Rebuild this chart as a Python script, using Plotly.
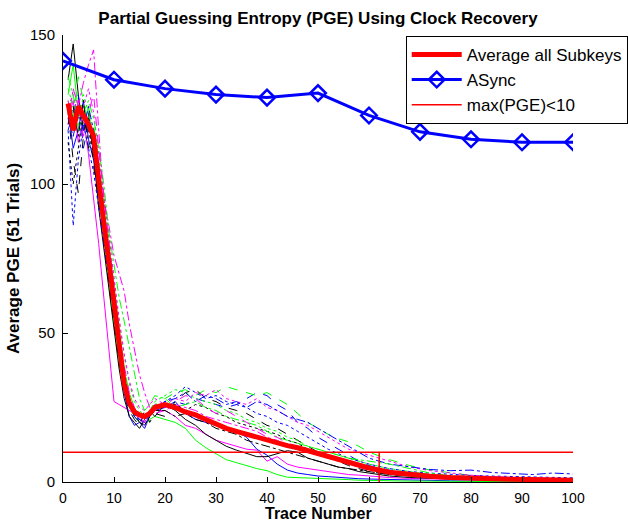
import plotly.graph_objects as go

# ---------------- data ----------------
trace_x = [1, 2, 3, 4, 5, 6, 7, 8, 9, 10, 11, 12, 13, 14, 15, 16, 17, 18,
           20, 22, 24, 26, 28, 30, 32, 34, 36, 38, 40, 42, 44, 46, 48, 50, 52, 54, 56, 58, 60,
           64, 68, 72, 76, 80, 84, 88, 92, 96, 100]

avg_all = [127, 118, 126, 123, 120, 116, 100, 87, 74, 60, 44, 33, 26.5, 23.5, 22.5, 22, 23, 25,
           26, 25, 23.5, 22.5, 21, 19.5, 18, 17, 16, 15, 14, 13, 12.2, 11.5, 10.5, 9.5, 8.5, 7.5, 6.5, 5.5, 4.7,
           3.3, 2.5, 1.9, 1.5, 1.2, 1.0, 0.9, 0.8, 0.7, 0.6]

async_x = [0, 10, 20, 30, 40, 50, 60, 70, 80, 90, 100]
async_y = [141.3, 135, 132, 130, 129, 130.5, 123, 117.5, 115, 114, 114]

limit_x = [0, 100, None, 62, 62]
limit_y = [10, 10, None, 0, 10]

sk_blue_solid = [125, 112, 118, 128, 115, 108, 96, 84, 70, 55, 42, 30, 22, 19, 20, 18, 22, 24,
                 25, 27, 23, 21, 20, 19, 18, 17, 15, 11, 9, 6, 4, 3, 2.5, 2, 1.8, 1.5, 1.3, 1.1, 1.0,
                 0.8, 0.6, 0.5, 0.4, 0.3, 0.3, 0.2, 0.2, 0.2, 0.2]
sk_green_solid = [130, 140, 124, 120, 126, 112, 98, 82, 66, 52, 40, 31, 25, 22, 20, 19, 21, 22,
                  21, 20, 18, 14, 11.5, 9.5, 7.5, 6.5, 5.5, 4.5, 3.8, 2.5, 1.6, 1.5, 1.4, 1.3, 1.2, 1, 0.8, 0.6, 0.5,
                  0.4, 0.3, 0.3, 0.2, 0.2, 0.2, 0.1, 0.1, 0.1, 0.1]
sk_magenta_solid = [122, 128, 114, 122, 110, 96, 80, 62, 44, 27, 26, 25, 24, 23, 21, 19, 22, 24,
                    24, 22, 19, 18, 16, 14, 13, 12, 11, 10.7, 7, 8.5, 6, 5, 4.5, 4, 3.5, 3, 2.5, 2.3, 2,
                    1.5, 1.2, 1, 0.8, 0.7, 0.6, 0.5, 0.5, 0.4, 0.4]
sk_black_solid = [135, 147, 130, 118, 122, 110, 92, 78, 64, 50, 38, 28, 22, 20, 18, 21, 24, 22,
                  26, 24, 21, 19, 16, 14, 12, 10.7, 9.5, 8.5, 8.5, 9.5, 10.5, 10, 8, 7, 6, 5, 4.5, 3.5, 3,
                  2, 1.5, 1.2, 1, 0.8, 0.7, 0.6, 0.5, 0.5, 0.4]
sk_blue_dash = [118, 124, 130, 112, 120, 114, 100, 86, 72, 58, 45, 34, 27, 23, 21, 20, 23, 25,
                25, 27, 26, 28, 27, 26, 25, 26, 28, 30, 29, 26, 24, 20, 18, 15, 13, 11, 9, 7, 5.5,
                4, 3, 2.5, 2, 1.8, 1.6, 1.5, 1.4, 1.2, 1]
sk_green_dash = [128, 122, 136, 128, 118, 120, 108, 92, 78, 64, 50, 38, 30, 25, 23, 22, 24, 26,
                 28, 30, 31, 29, 31, 30, 32, 31, 30, 29, 30, 28, 26, 23, 20, 18, 16, 14.5, 13.5, 12, 10,
                 7.5, 5.5, 4, 3, 2.2, 1.6, 1.2, 1, 0.8, 0.7]
sk_magenta_dashdot = [120, 132, 126, 134, 140, 145, 118, 95, 86, 76, 70, 64, 53, 44, 36, 30, 25, 23,
                      24, 26, 25, 24, 22, 21, 20, 19, 18, 17, 15, 14, 12, 11, 10, 9, 8, 7, 6, 5, 4,
                      3, 2.5, 2, 1.5, 1.2, 1, 0.9, 0.8, 0.7, 0.6]
sk_black_dash = [124, 108, 97, 116, 124, 106, 94, 80, 66, 52, 40, 30, 24, 21, 19, 24, 20, 23,
                 22, 27, 30, 31, 28, 27, 25, 24, 23, 21, 19, 18, 16, 14, 12, 10, 8.5, 7, 5.5, 4.5, 3.5,
                 2.5, 2, 1.6, 1.3, 1.1, 1, 0.9, 0.8, 0.7, 0.6]
sk_blue_dot = [118, 86, 108, 120, 112, 104, 92, 80, 68, 56, 44, 33, 26, 22, 21, 20, 23, 25,
               27, 29, 32, 30, 28, 29, 27, 26, 25, 23, 22, 20, 19, 17, 15, 13, 11, 9.5, 8, 7, 6,
               4.5, 3.5, 3, 2.5, 2.2, 2, 1.8, 1.6, 1.5, 1.4]
sk_green_dot = [132, 126, 120, 130, 124, 116, 106, 94, 80, 66, 54, 42, 33, 27, 24, 22, 24, 27,
                29, 31, 30, 28, 27, 26, 24, 23, 21, 20, 18, 17, 15, 14, 12, 11, 10, 9, 8, 7, 6,
                4.5, 3.5, 2.5, 2, 1.6, 1.3, 1.1, 1, 0.9, 0.8]
sk_magenta_dot = [126, 130, 122, 126, 132, 124, 110, 96, 82, 68, 55, 43, 34, 28, 25, 24, 26, 28,
                  26, 28, 27, 30, 29, 31, 28, 27, 26, 28, 25, 24, 22, 20, 19, 17, 15, 13, 11, 10, 9,
                  7, 5, 3.8, 3, 2.3, 1.8, 1.5, 1.3, 1.2, 1]
sk_black_dot = [114, 100, 112, 124, 118, 110, 98, 86, 74, 60, 47, 36, 28, 24, 22, 21, 23, 26,
                25, 26, 24, 26, 25, 23, 22, 20, 19, 18, 17, 16, 14, 13, 11, 10, 9, 8, 7, 6, 5,
                3.5, 2.5, 2, 1.6, 1.3, 1.1, 1, 0.9, 0.8, 0.7]
sk_blue_dashdot = [122, 116, 124, 118, 126, 118, 104, 88, 74, 60, 46, 35, 27, 22, 20, 19, 22, 25,
                   27, 28, 30, 27, 29, 28, 26, 27, 25, 27, 26, 24, 22, 21, 20, 18, 16, 14, 12, 10, 8,
                   6, 5, 4.2, 3.8, 4, 3.2, 2.8, 2.5, 3, 2.7]
sk_green_dashdot = [136, 130, 118, 124, 128, 122, 112, 100, 84, 73, 62, 54, 45, 36, 28, 24, 26, 29,
                    28, 25, 26, 27, 25, 24, 22, 21, 20, 19, 17, 15, 14, 13, 12, 11, 10, 9, 8, 7.5, 7,
                    6, 4.5, 3, 2, 1.5, 1.2, 1, 0.9, 0.8, 0.7]
sk_magenta_dash = [128, 118, 128, 116, 124, 130, 112, 96, 80, 64, 50, 39, 30, 25, 22, 20, 23, 26,
                   25, 27, 29, 28, 25, 23, 24, 22, 20, 18, 16, 15, 13, 12, 10, 9, 8, 7, 6, 5, 4,
                   3, 2, 1.6, 1.3, 1.1, 1, 0.9, 0.8, 0.7, 0.6]
sk_black_dashdot = [120, 126, 116, 128, 112, 116, 104, 90, 76, 62, 48, 36, 28, 23, 20, 19, 22, 24,
                    24, 22, 23, 21, 20, 18, 17, 16, 14, 13, 12, 11, 10, 9, 8, 7, 6, 5, 4.5, 4, 3.5,
                    2.5, 2, 1.5, 1.2, 1, 0.9, 0.8, 0.7, 0.6, 0.5]

subkeys = [
    (sk_blue_solid, "#0000FF", "solid"),
    (sk_green_solid, "#00FF00", "solid"),
    (sk_magenta_solid, "#FF00FF", "solid"),
    (sk_black_solid, "#000000", "solid"),
    (sk_blue_dash, "#0000FF", "dash"),
    (sk_green_dash, "#00FF00", "dash"),
    (sk_magenta_dashdot, "#FF00FF", "dashdot"),
    (sk_black_dash, "#000000", "dash"),
    (sk_blue_dot, "#0000FF", "dot"),
    (sk_green_dot, "#00FF00", "dot"),
    (sk_magenta_dot, "#FF00FF", "dot"),
    (sk_black_dot, "#000000", "dot"),
    (sk_blue_dashdot, "#0000FF", "dashdot"),
    (sk_green_dashdot, "#00FF00", "dashdot"),
    (sk_magenta_dash, "#FF00FF", "dash"),
    (sk_black_dashdot, "#000000", "dashdot"),
]

FONT = "Liberation Sans, Arial, sans-serif"

fig = go.Figure()
for vals, col, dash in subkeys:
    fig.add_trace(go.Scatter(x=trace_x, y=vals, mode="lines", showlegend=False,
                             line=dict(color=col, width=1, dash=dash), hoverinfo="skip"))

fig.add_trace(go.Scatter(x=trace_x, y=avg_all, mode="lines", name="Average all Subkeys",
                         line=dict(color="#FF0000", width=5)))
fig.add_trace(go.Scatter(x=async_x, y=async_y, mode="lines+markers", name="ASync",
                         line=dict(color="#0000FF", width=3),
                         marker=dict(symbol="diamond-open", size=12, color="#0000FF",
                                     line=dict(width=2.5, color="#0000FF"))))
fig.add_trace(go.Scatter(x=limit_x, y=limit_y, mode="lines", name="max(PGE)<10",
                         line=dict(color="#FF0000", width=1.5)))

fig.update_layout(
    width=628, height=522,
    margin=dict(l=63, r=55, t=35, b=40, autoexpand=False),
    paper_bgcolor="white", plot_bgcolor="white",
    font=dict(family=FONT, size=14, color="black"),
    title=dict(text="<b>Partial Guessing Entropy (PGE) Using Clock Recovery</b>",
               x=0.5, xref="paper", xanchor="center", y=1 - 18 / 522, yanchor="middle",
               font=dict(size=17, family=FONT)),
    legend=dict(x=0.672, y=0.998, xanchor="left", yanchor="top",
                bgcolor="white", bordercolor="black", borderwidth=1,
                font=dict(size=17, family=FONT), itemwidth=50,
                tracegroupgap=0),
    annotations=[dict(text="<b>Trace Number</b>", xref="paper", yref="paper",
                      x=0.5, y=-(513 - 482) / 447, xanchor="center", yanchor="middle",
                      showarrow=False, font=dict(size=16, family=FONT))],
)
fig.update_xaxes(range=[0, 100], tickvals=[0, 10, 20, 30, 40, 50, 60, 70, 80, 90, 100],
                 showline=True, linecolor="black", linewidth=1, ticks="inside", ticklen=5,
                 tickcolor="black", showgrid=False, zeroline=False, mirror=False,
                 ticklabelstandoff=3, automargin=False,
                 tickfont=dict(size=14))
fig.update_yaxes(range=[0, 150], tickvals=[0, 50, 100, 150],
                 showline=True, linecolor="black", linewidth=1, ticks="inside", ticklen=5,
                 tickcolor="black", showgrid=False, zeroline=False, mirror=False,
                 ticklabelstandoff=4, automargin=False, tickfont=dict(size=15),
                 title=dict(text="<b>Average PGE (51 Trials)</b>", font=dict(size=17), standoff=6))

fig.write_html("out.html")
